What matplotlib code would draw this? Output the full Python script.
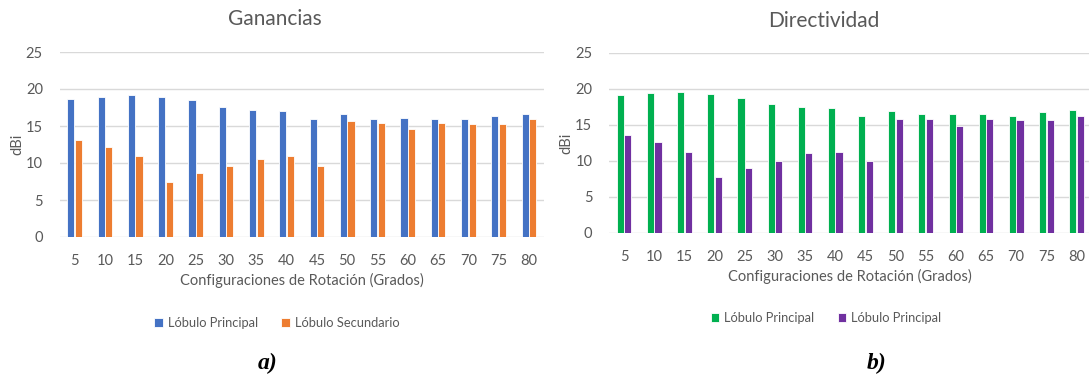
import numpy as np
import matplotlib
matplotlib.use('Agg')
import matplotlib.pyplot as plt

# Data
angles = ['5', '10', '15', '20', '25', '30', '35', '40', '45', '50', '55', '60', '65', '70', '75', '80']
gain_main = [18.6, 18.9, 19.2, 18.9, 18.5, 17.6, 17.2, 17.0, 16.0, 16.6, 16.0, 16.1, 16.0, 15.9, 16.3, 16.6]
gain_side = [13.1, 12.2, 10.9, 7.4, 8.7, 9.6, 10.6, 10.9, 9.6, 15.7, 15.4, 14.6, 15.4, 15.3, 15.3, 15.9]
dir_main = [19.1, 19.4, 19.6, 19.3, 18.8, 17.9, 17.5, 17.4, 16.3, 16.9, 16.5, 16.5, 16.5, 16.2, 16.8, 17.1]
dir_side = [13.6, 12.6, 11.3, 7.8, 9.0, 10.0, 11.1, 11.3, 10.0, 15.9, 15.9, 14.9, 15.9, 15.7, 15.7, 16.2]

TEXT = '#595959'
GRID = '#D9D9D9'
plt.rcParams['font.family'] = ['Lato', 'DejaVu Sans']

W, H = 1089, 381
fig = plt.figure(figsize=(W / 100, H / 100), dpi=100)


def px_axes(x0, x1, y_top, y_bot):
    return fig.add_axes([x0 / W, 1 - y_bot / H, (x1 - x0) / W, (y_bot - y_top) / H])


def bar_panel(ax, s1, s2, c1, c2):
    x = np.arange(len(angles))
    w = 0.235
    b1 = ax.bar(x - 0.125, s1, w, color=c1, edgecolor='white', linewidth=0.6, zorder=3)
    b2 = ax.bar(x + 0.125, s2, w, color=c2, edgecolor='white', linewidth=0.6, zorder=3)
    ax.set_xlim(-0.5, len(angles) - 0.5)
    ax.set_ylim(0, 25)
    ax.set_yticks([0, 5, 10, 15, 20, 25])
    ax.set_xticks(x)
    ax.set_xticklabels(angles)
    ax.grid(axis='y', color=GRID, linewidth=1, zorder=0)
    for s in ax.spines.values():
        s.set_visible(False)
    ax.tick_params(length=0, colors=TEXT, labelsize=10.5)
    ax.tick_params(axis='x', pad=12)
    ax.tick_params(axis='y', pad=12)
    ax.set_xlabel('Configuraciones de Rotación (Grados)', color=TEXT, fontsize=10.5, labelpad=4)
    ax.set_ylabel('dBi', color=TEXT, fontsize=10.5, labelpad=1)
    return b1, b2


# a) Ganancias
ax1 = px_axes(59.5, 544, 52, 237)
h1, h2 = bar_panel(ax1, gain_main, gain_side, '#4472C4', '#ED7D31')
fig.text(275 / W, 1 - 19 / H, 'Ganancias', ha='center', va='center', color=TEXT, fontsize=15)
ax1.legend([h1, h2], ['Lóbulo Principal', 'Lóbulo Secundario'], loc='center',
           bbox_to_anchor=(277 / W, 1 - 323 / H), bbox_transform=fig.transFigure,
           ncol=2, frameon=False, fontsize=9.3, handlelength=0.65, handleheight=0.65,
           handletextpad=0.4, columnspacing=1.8, labelcolor=TEXT)

# b) Directividad
ax2 = px_axes(609, 1091.6, 53, 233)
g1, g2 = bar_panel(ax2, dir_main, dir_side, '#00B050', '#7030A0')
fig.text(824 / W, 1 - 21 / H, 'Directividad', ha='center', va='center', color=TEXT, fontsize=15)
ax2.legend([g1, g2], ['Lóbulo Principal', 'Lóbulo Principal'], loc='center',
           bbox_to_anchor=(826 / W, 1 - 318 / H), bbox_transform=fig.transFigure,
           ncol=2, frameon=False, fontsize=9.3, handlelength=0.65, handleheight=0.65,
           handletextpad=0.4, columnspacing=1.8, labelcolor=TEXT)

# panel captions
fig.text(268 / W, 1 - 363 / H, 'a)', ha='center', va='center', fontsize=17,
         family='Liberation Serif', weight='bold', style='italic')
fig.text(877 / W, 1 - 363 / H, 'b)', ha='center', va='center', fontsize=17,
         family='Liberation Serif', weight='bold', style='italic')

fig.savefig('out.png', dpi=100)
